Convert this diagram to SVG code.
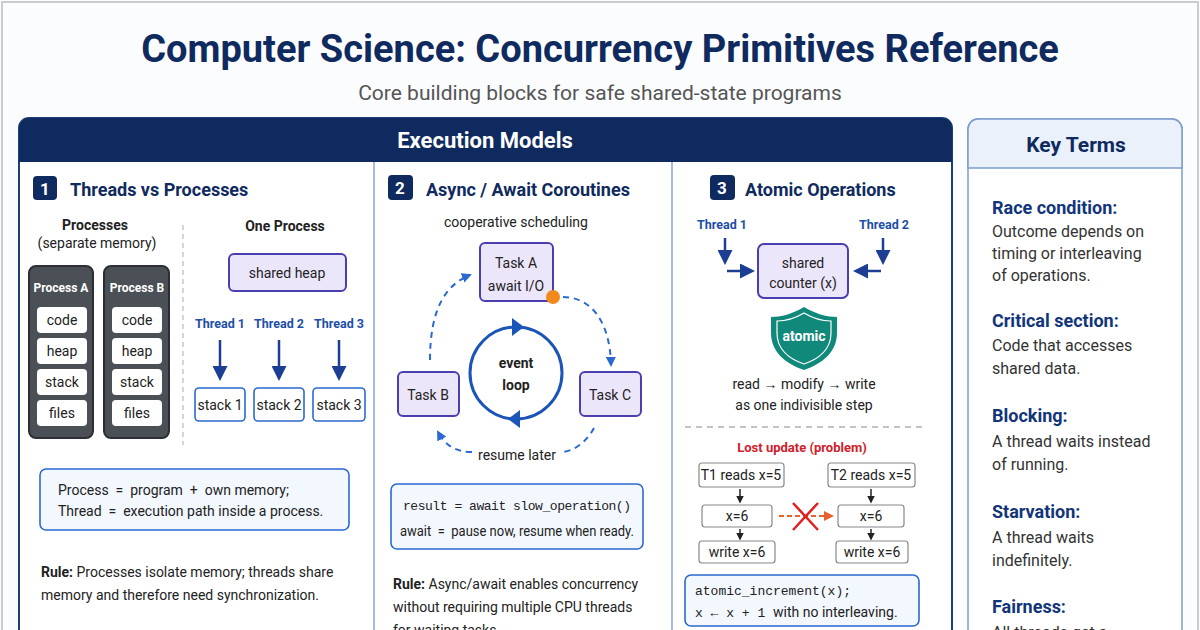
<svg xmlns="http://www.w3.org/2000/svg" width="1200" height="630" viewBox="0 0 1200 630">
<defs>
<style>
text{font-family:Roboto,"Liberation Sans",sans-serif}
.t{fill:#0f2a5e;font-weight:700}
.h{fill:#0f2a5e;font-weight:700;font-size:18px}
.b{fill:#222;font-size:14px}
.bl{fill:#1c4fa8;font-weight:700;font-size:12.5px}
.m{font-family:"Liberation Mono",monospace;fill:#222;font-size:13px}
.wb{fill:#fff;stroke:#888;stroke-width:1.2}
.pb{fill:#ece6fb;stroke:#4a3fb0;stroke-width:2}
.ib{fill:#f3f7fe;stroke:#2a6ad0;stroke-width:1.6}
.badge{fill:#0f2a5e}
.bt{fill:#fff;font-weight:700;font-size:17px}
.kt{fill:#12357a;font-weight:700;font-size:18px}
.kb{fill:#333;font-size:16px}
.da{fill:none;stroke:#2a6ad0;stroke-width:2;stroke-dasharray:6 5}
</style>
<marker id="ah" viewBox="0 0 10 10" refX="8" refY="5" markerWidth="6" markerHeight="6" orient="auto"><path d="M0,0L10,5L0,10z" fill="#1c3f94"/></marker>
<marker id="ab" viewBox="0 0 10 10" refX="8" refY="5" markerWidth="5" markerHeight="5" orient="auto"><path d="M0,0L10,5L0,10z" fill="#2a6ad0"/></marker>
<marker id="ak" viewBox="0 0 10 10" refX="8" refY="5" markerWidth="5" markerHeight="5" orient="auto"><path d="M0,0L10,5L0,10z" fill="#222"/></marker>
<marker id="ao" viewBox="0 0 10 10" refX="8" refY="5" markerWidth="5" markerHeight="5" orient="auto"><path d="M0,0L10,5L0,10z" fill="#e8602c"/></marker>
</defs>
<rect width="1200" height="630" fill="#fbfcfe"/>
<rect x="2" y="2" width="1196" height="640" fill="none" stroke="#c9ccd2" stroke-width="2"/>
<g id="title">
<text x="600" y="62" text-anchor="middle" class="t" font-size="38">Computer Science: Concurrency Primitives Reference</text>
<text x="600" y="100" text-anchor="middle" fill="#555" font-size="21">Core building blocks for safe shared-state programs</text>
</g>
<g id="main-panel">
<rect x="19" y="118" width="933" height="530" rx="10" fill="#fff" stroke="#1c3f7a" stroke-width="2"/>
<path d="M19,162V128a10,10 0 0 1 10-10H942a10,10 0 0 1 10,10V162z" fill="#0f2a5e"/>
<text x="485" y="148" text-anchor="middle" fill="#fff" font-weight="700" font-size="22">Execution Models</text>
<line x1="374" y1="162" x2="374" y2="630" stroke="#8aa6d6" stroke-width="1.5"/>
<line x1="672" y1="162" x2="672" y2="630" stroke="#8aa6d6" stroke-width="1.5"/>
</g>
<g id="sec1">
<rect class="badge" x="33" y="176" width="24" height="24" rx="4"/><text x="45" y="195" text-anchor="middle" class="bt">1</text>
<text x="70" y="196" class="h">Threads vs Processes</text>
<text x="95" y="230" text-anchor="middle" class="b" font-weight="700" fill="#222">Processes</text>
<text x="97" y="248" text-anchor="middle" class="b">(separate memory)</text>
<line x1="183" y1="225" x2="183" y2="445" stroke="#aaa" stroke-dasharray="5 4"/>
</g>
<g id="procA">
<rect x="29" y="266" width="64" height="172" rx="7" fill="#4b5057" stroke="#2b2f35" stroke-width="2"/>
<text x="61" y="292" text-anchor="middle" fill="#fff" font-size="12" font-weight="700">Process A</text>
<rect x="37" y="307" width="50" height="26" rx="4" fill="#fff"/><text x="62" y="325" text-anchor="middle" class="b">code</text>
<rect x="37" y="338" width="50" height="26" rx="4" fill="#fff"/><text x="62" y="356" text-anchor="middle" class="b">heap</text>
<rect x="37" y="369" width="50" height="26" rx="4" fill="#fff"/><text x="62" y="387" text-anchor="middle" class="b">stack</text>
<rect x="37" y="400" width="50" height="26" rx="4" fill="#fff"/><text x="62" y="418" text-anchor="middle" class="b">files</text>
</g>
<g id="procB">
<rect x="104" y="266" width="65" height="172" rx="7" fill="#4b5057" stroke="#2b2f35" stroke-width="2"/>
<text x="137" y="292" text-anchor="middle" fill="#fff" font-size="12" font-weight="700">Process B</text>
<rect x="112" y="307" width="50" height="26" rx="4" fill="#fff"/><text x="137" y="325" text-anchor="middle" class="b">code</text>
<rect x="112" y="338" width="50" height="26" rx="4" fill="#fff"/><text x="137" y="356" text-anchor="middle" class="b">heap</text>
<rect x="112" y="369" width="50" height="26" rx="4" fill="#fff"/><text x="137" y="387" text-anchor="middle" class="b">stack</text>
<rect x="112" y="400" width="50" height="26" rx="4" fill="#fff"/><text x="137" y="418" text-anchor="middle" class="b">files</text>
</g>
<g id="oneproc">
<text x="285" y="231" text-anchor="middle" class="b" font-weight="700">One Process</text>
<rect class="pb" x="229" y="254" width="117" height="37" rx="5"/><text x="287" y="278" text-anchor="middle" class="b">shared heap</text>
<text x="220" y="328" text-anchor="middle" class="bl">Thread 1</text>
<text x="279" y="328" text-anchor="middle" class="bl">Thread 2</text>
<text x="339" y="328" text-anchor="middle" class="bl">Thread 3</text>
<rect x="195" y="388" width="50" height="33" rx="4" fill="#fff" stroke="#2a6ad0" stroke-width="1.6"/><text x="220" y="410" text-anchor="middle" class="b" font-size="13">stack 1</text>
<rect x="254" y="388" width="50" height="33" rx="4" fill="#fff" stroke="#2a6ad0" stroke-width="1.6"/><text x="279" y="410" text-anchor="middle" class="b" font-size="13">stack 2</text>
<rect x="313" y="388" width="52" height="33" rx="4" fill="#fff" stroke="#2a6ad0" stroke-width="1.6"/><text x="339" y="410" text-anchor="middle" class="b" font-size="13">stack 3</text>
</g>
<g id="note1">
<rect class="ib" x="40" y="469" width="309" height="61" rx="6"/>
<text x="58" y="495" class="b" font-size="15" xml:space="preserve">Process  =  program  +  own memory;</text>
<text x="58" y="516" class="b" font-size="15" xml:space="preserve">Thread  =  execution path inside a process.</text>
<text x="41" y="577" class="b"><tspan font-weight="700">Rule:</tspan> Processes isolate memory; threads share</text>
<text x="41" y="600" class="b">memory and therefore need synchronization.</text>
</g>
<g id="sec2">
<rect class="badge" x="388" y="175" width="25" height="25" rx="4"/><text x="400" y="194" text-anchor="middle" class="bt">2</text>
<text x="426" y="196" class="h">Async / Await Coroutines</text>
<text x="516" y="227" text-anchor="middle" class="b">cooperative scheduling</text>
</g>
<g id="taskA"><rect class="pb" x="480" y="243" width="73" height="58" rx="5"/><text x="516" y="268" text-anchor="middle" class="b">Task A</text><text x="516" y="291" text-anchor="middle" class="b">await I/O</text></g>
<g id="taskB"><rect class="pb" x="398" y="372" width="61" height="44" rx="5"/><text x="428" y="400" text-anchor="middle" class="b">Task B</text></g>
<g id="taskC"><rect class="pb" x="580" y="372" width="61" height="44" rx="5"/><text x="610" y="400" text-anchor="middle" class="b">Task C</text></g>
<g id="loop">
<circle cx="516" cy="373" r="46" fill="none" stroke="#1c55b8" stroke-width="3"/>
<path d="M524,327L512,318L512,336z" fill="#1c55b8"/>
<path d="M508,419L520,410L520,428z" fill="#1c55b8"/>
<text x="516" y="368" text-anchor="middle" class="b" font-weight="700" font-size="15">event</text>
<text x="516" y="390" text-anchor="middle" class="b" font-weight="700" font-size="15">loop</text>
<text x="517" y="460" text-anchor="middle" class="b">resume later</text>
</g>
<g id="connectors">
<path class="da" d="M430,360C430,310 445,285 470,275" marker-end="url(#ab)"/>
<path class="da" d="M563,297C590,297 610,320 611,365" marker-end="url(#ab)"/>
<path class="da" d="M594,428C585,445 570,452 562,452"/>
<path class="da" d="M472,452C455,452 445,445 438,432" marker-end="url(#ab)"/>
<line x1="220" y1="340" x2="220" y2="378" stroke="#1c3f94" stroke-width="2.5" marker-end="url(#ah)"/>
<line x1="279" y1="340" x2="279" y2="378" stroke="#1c3f94" stroke-width="2.5" marker-end="url(#ah)"/>
<line x1="339" y1="340" x2="339" y2="378" stroke="#1c3f94" stroke-width="2.5" marker-end="url(#ah)"/>
<path d="M727,271H752" fill="none" stroke="#1c3f94" stroke-width="2.5" marker-end="url(#ah)"/>
<path d="M725,238V262" fill="none" stroke="#1c3f94" stroke-width="2.5" marker-end="url(#ah)"/>
<path d="M883,238V262" fill="none" stroke="#1c3f94" stroke-width="2.5" marker-end="url(#ah)"/>
<path d="M881,271H856" fill="none" stroke="#1c3f94" stroke-width="2.5" marker-end="url(#ah)"/>
<line x1="740" y1="489" x2="740" y2="502" stroke="#222" stroke-width="1.5" marker-end="url(#ak)"/>
<line x1="740" y1="529" x2="740" y2="539" stroke="#222" stroke-width="1.5" marker-end="url(#ak)"/>
<line x1="871" y1="489" x2="871" y2="502" stroke="#222" stroke-width="1.5" marker-end="url(#ak)"/>
<line x1="871" y1="529" x2="871" y2="539" stroke="#222" stroke-width="1.5" marker-end="url(#ak)"/>
<line x1="779" y1="516" x2="832" y2="516" stroke="#e8602c" stroke-width="2" stroke-dasharray="5 3" marker-end="url(#ao)"/>
<path d="M793,503L818,530M818,503L793,530" stroke="#e02020" stroke-width="2.5"/>
</g>
<circle cx="553" cy="297" r="7" fill="#f08a1c"/>
<g id="note2">
<rect class="ib" x="391" y="484" width="252" height="65" rx="6"/>
<text x="403" y="510" class="m" font-size="13" textLength="228" xml:space="preserve">result = await slow_operation()</text>
<text x="400" y="536" class="b" font-size="13.5" textLength="234" lengthAdjust="spacingAndGlyphs" xml:space="preserve">await  =  pause now, resume when ready.</text>
<text x="393" y="589" class="b"><tspan font-weight="700">Rule:</tspan> Async/await enables concurrency</text>
<text x="393" y="612" class="b">without requiring multiple CPU threads</text>
<text x="393" y="635" class="b">for waiting tasks.</text>
</g>
<g id="sec3">
<rect class="badge" x="710" y="175" width="25" height="25" rx="4"/><text x="722" y="194" text-anchor="middle" class="bt">3</text>
<text x="745" y="196" class="h">Atomic Operations</text>
<text x="722" y="229" text-anchor="middle" class="bl" font-size="14">Thread 1</text>
<text x="884" y="229" text-anchor="middle" class="bl" font-size="14">Thread 2</text>
</g>
<g id="counter"><rect class="pb" x="758" y="244" width="90" height="54" rx="6"/><text x="803" y="268" text-anchor="middle" class="b">shared</text><text x="803" y="288" text-anchor="middle" class="b">counter (x)</text></g>
<g id="shield">
<path d="M804,307C792,314 781,317 771,317V333C771,352 786,364 804,370C822,364 837,352 837,333V317C827,317 816,314 804,307z" fill="#11897a"/>
<path d="M804,313C794,319 785,321 777,321V333C777,349 789,359 804,364C819,359 831,349 831,333V321C823,321 814,319 804,313z" fill="none" stroke="#fff" stroke-width="1.2"/>
<text x="804" y="341" text-anchor="middle" fill="#fff" font-weight="700" font-size="14">atomic</text>
<text x="804" y="389" text-anchor="middle" class="b">read → modify → write</text>
<text x="804" y="410" text-anchor="middle" class="b">as one indivisible step</text>
<line x1="685" y1="427" x2="925" y2="427" stroke="#888" stroke-dasharray="6 5"/>
<text x="802" y="452" text-anchor="middle" fill="#d0202a" font-weight="700" font-size="13">Lost update (problem)</text>
</g>
<g id="lost">
<rect class="wb" x="699" y="463" width="85" height="24" rx="3"/><text x="741" y="480" text-anchor="middle" class="b" font-size="12">T1 reads x=5</text>
<rect class="wb" x="702" y="505" width="70" height="22" rx="3"/><text x="737" y="521" text-anchor="middle" class="b" font-size="12">x=6</text>
<rect class="wb" x="699" y="541" width="76" height="22" rx="3"/><text x="737" y="557" text-anchor="middle" class="b" font-size="12">write x=6</text>
<rect class="wb" x="828" y="463" width="87" height="24" rx="3"/><text x="871" y="480" text-anchor="middle" class="b" font-size="12">T2 reads x=5</text>
<rect class="wb" x="838" y="505" width="66" height="22" rx="3"/><text x="871" y="521" text-anchor="middle" class="b" font-size="12">x=6</text>
<rect class="wb" x="836" y="541" width="72" height="22" rx="3"/><text x="872" y="557" text-anchor="middle" class="b" font-size="12">write x=6</text>
</g>
<g id="note3">
<rect class="ib" x="685" y="575" width="234" height="51" rx="6"/>
<text x="695" y="595" class="m" font-size="13">atomic_increment(x);</text>
<text x="695" y="617" class="m" font-size="13">x ← x + 1 <tspan font-family="Roboto,sans-serif" font-size="14">with no interleaving.</tspan></text>
</g>
<g id="keyterms">
<rect x="968" y="119" width="214" height="530" rx="10" fill="#fff" stroke="#7d9ccc" stroke-width="1.5"/>
<path d="M968,168V129a10,10 0 0 1 10-10H1172a10,10 0 0 1 10,10V168z" fill="#eaf1fb" stroke="#7d9ccc" stroke-width="1.5"/>
<text x="1076" y="152" text-anchor="middle" class="t" font-size="21">Key Terms</text>
<text x="992" y="214" class="kt">Race condition:</text>
<text x="992" y="237" class="kb">Outcome depends on</text>
<text x="992" y="259" class="kb">timing or interleaving</text>
<text x="992" y="281" class="kb">of operations.</text>
<text x="992" y="327" class="kt">Critical section:</text>
<text x="992" y="351" class="kb">Code that accesses</text>
<text x="992" y="374" class="kb">shared data.</text>
<text x="992" y="422" class="kt">Blocking:</text>
<text x="992" y="447" class="kb">A thread waits instead</text>
<text x="992" y="470" class="kb">of running.</text>
<text x="992" y="518" class="kt">Starvation:</text>
<text x="992" y="543" class="kb">A thread waits</text>
<text x="992" y="566" class="kb">indefinitely.</text>
<text x="992" y="613" class="kt">Fairness:</text>
<text x="992" y="638" class="kb">All threads get a</text>
</g>
</svg>
